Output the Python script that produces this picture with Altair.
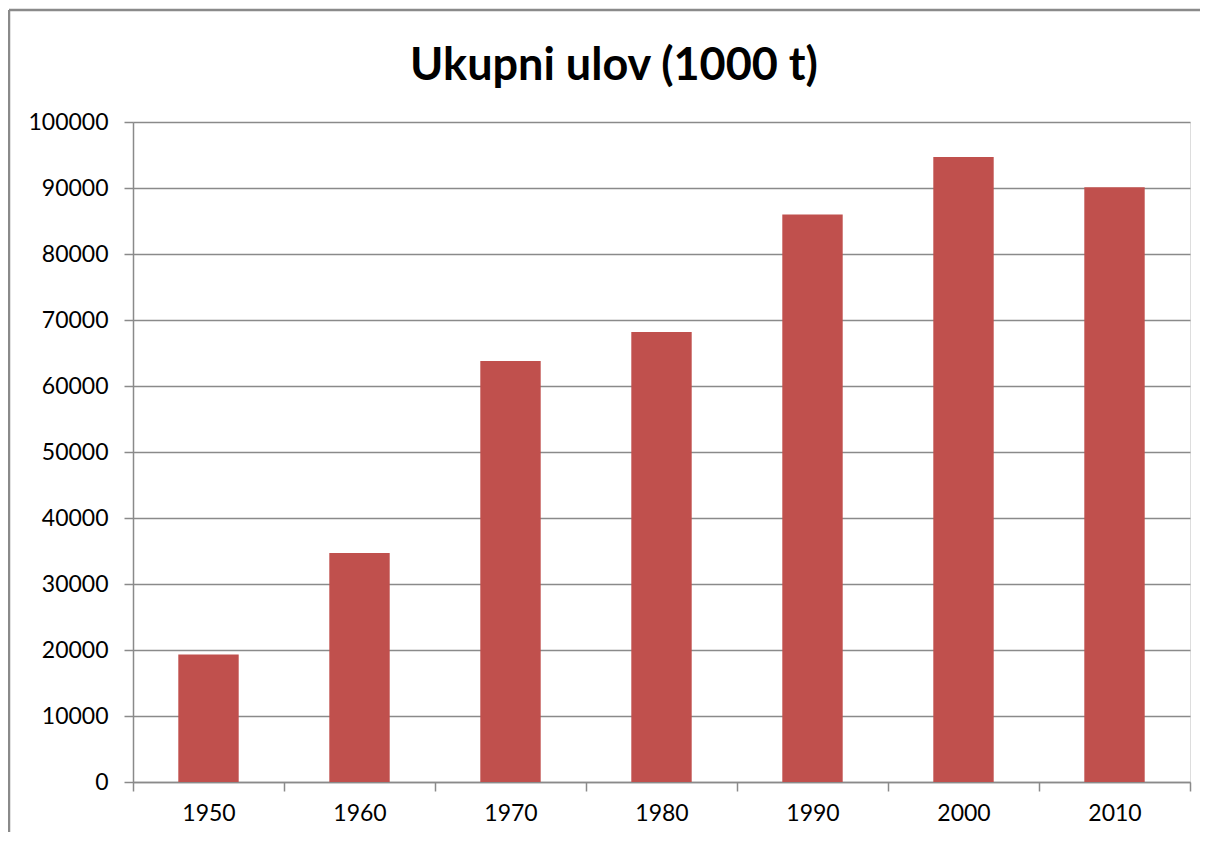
import altair as alt
import pandas as pd

years = ["1950", "1960", "1970", "1980", "1990", "2000", "2010"]
catch = [19300, 34700, 63800, 68200, 86000, 94700, 90100]
title_text = "Ukupni ulov (1000 t)"
y_ticks = [0, 10000, 20000, 30000, 40000, 50000, 60000, 70000, 80000, 90000, 100000]

df = pd.DataFrame({"year": years, "catch": catch})

FONT = "Lato"
GRID = "#8a8a8a"

bars = alt.Chart(df).mark_bar(
    color="#C0504D", width=alt.RelativeBandSize(0.4)
).encode(
    x=alt.X(
        "year:N",
        sort=years,
        title=None,
        scale=alt.Scale(paddingInner=0, paddingOuter=0),
        axis=alt.Axis(
            tickBand="extent",
            labelAngle=0,
            labelFont=FONT,
            labelFontSize=23,
            labelColor="#000000",
            labelPadding=11,
            domainColor=GRID,
            domainWidth=1.5,
            tickColor=GRID,
            tickWidth=1.5,
            tickSize=9,
            grid=False,
        ),
    ),
    y=alt.Y(
        "catch:Q",
        title=None,
        scale=alt.Scale(domain=[0, 100000], nice=False),
        axis=alt.Axis(
            values=y_ticks,
            format="d",
            labelFont=FONT,
            labelFontSize=23,
            labelColor="#000000",
            labelPadding=16,
            domainColor=GRID,
            domainWidth=1.5,
            tickColor=GRID,
            tickWidth=1.5,
            tickSize=9,
            grid=True,
            gridColor=GRID,
            gridWidth=1.5,
        ),
    ),
)

frame_df = pd.DataFrame({"k": [0]})
frame_top = alt.Chart(frame_df).mark_rule(color="#8a8a8a", strokeWidth=2.5).encode(
    x=alt.value(-124), x2=alt.value(1100), y=alt.value(-112)
)
frame_left = alt.Chart(frame_df).mark_rule(color="#8a8a8a", strokeWidth=2.5).encode(
    x=alt.value(-124), y=alt.value(-112), y2=alt.value(760)
)
title = alt.Chart(frame_df).mark_text(
    text=title_text,
    font=FONT,
    fontSize=45,
    fontWeight="bold",
    color="#000000",
    align="center",
    baseline="alphabetic",
).encode(x=alt.value(614 - 133), y=alt.value(80 - 122))

chart = alt.layer(bars, frame_top, frame_left, title).properties(
    width=1057,
    height=660,
    autosize=alt.AutoSizeParams(type="none"),
    padding={"left": 125, "top": 114, "right": 10, "bottom": 50},
).configure_view(stroke=None).configure(background="white")

chart.save("out.html", embed_options={"renderer": "svg", "actions": False})
